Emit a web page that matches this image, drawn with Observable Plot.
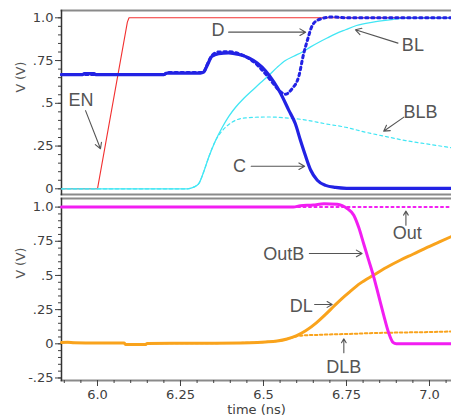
<!DOCTYPE html>
<html><head><meta charset="utf-8">
<script src="https://cdn.jsdelivr.net/npm/d3@7"></script>
<script src="https://cdn.jsdelivr.net/npm/@observablehq/plot@0.6"></script>
<style>
body{margin:0;background:#fff;}
#chart{width:451px;height:417px;overflow:hidden;position:relative;background:#fff;}
#chart svg{display:block;}
</style></head><body><div id="chart"></div>
<script>
// ---------- data (time ns, volts) ----------
const EN = [[5.8916,0],[6.0,0],[6.09,0.975],[6.095,1.0],[7.0663,1.0]];
const C = [[5.8916,0.668],[5.955,0.668],[5.96,0.674],[5.99,0.674],[5.995,0.668],[6.2,0.668],[6.21,0.677],[6.31,0.677],
  [6.32,0.682],[6.33,0.72],[6.345,0.775],[6.365,0.79],[6.395,0.795],[6.426,0.785],[6.456,0.765],[6.481,0.735],
  [6.506,0.69],[6.531,0.625],[6.551,0.56],[6.576,0.46],[6.596,0.38],[6.611,0.285],[6.627,0.19],[6.642,0.11],
  [6.662,0.05],[6.687,0.02],[6.717,0.008],[6.75,0.003],[7.0663,0.002]];
const D = [[5.8916,0.668],[6.2,0.668],[6.21,0.68],[6.31,0.68],[6.32,0.685],[6.33,0.725],[6.345,0.78],[6.365,0.80],
  [6.395,0.802],[6.426,0.79],[6.456,0.762],[6.481,0.725],[6.506,0.672],[6.531,0.612],[6.551,0.568],[6.566,0.553],
  [6.586,0.585],[6.606,0.655],[6.621,0.79],[6.632,0.867],[6.647,0.955],[6.667,0.99],[6.707,1.005],[6.75,1.0],[7.0663,1.0]];
const BL = [[5.8916,0],[6.27,0],[6.29,0.01],[6.305,0.03],[6.32,0.1],[6.335,0.185],[6.355,0.28],[6.376,0.36],
  [6.396,0.425],[6.416,0.477],[6.441,0.53],[6.466,0.575],[6.491,0.62],[6.516,0.663],[6.541,0.71],[6.566,0.75],
  [6.591,0.775],[6.617,0.80],[6.642,0.83],[6.667,0.857],[6.692,0.882],[6.717,0.906],[6.747,0.93],[6.78,0.955],
  [6.83,0.975],[6.88,0.988],[6.94,1.0],[7.0663,1.0]];
const BLB = [[5.8916,0],[6.27,0],[6.29,0.01],[6.305,0.03],[6.32,0.1],[6.335,0.185],[6.355,0.28],[6.376,0.34],
  [6.406,0.39],[6.446,0.415],[6.516,0.42],[6.566,0.415],[6.617,0.405],[6.687,0.38],[6.747,0.36],[6.807,0.331],
  [6.87,0.305],[6.928,0.282],[7.0,0.26],[7.0663,0.24]];
const OUT = [[5.8916,1.0],[7.0663,1.0]];
const OUTB = [[5.8916,1.0],[6.59,1.0],[6.611,1.01],[6.65,1.015],[6.682,1.025],[6.722,1.02],[6.737,1.01],[6.752,0.99],
  [6.772,0.94],[6.787,0.85],[6.802,0.73],[6.817,0.61],[6.832,0.49],[6.847,0.35],[6.862,0.21],[6.877,0.08],
  [6.89,0.01],[6.9,0],[7.0663,0]];
const DL = [[5.8916,0.01],[5.91,0.012],[5.93,0.007],[6.0,0.005],[6.08,0.005],[6.085,-0.005],[6.145,-0.005],[6.15,0.003],
  [6.3,0.004],[6.46,0.008],[6.506,0.013],[6.541,0.02],[6.571,0.035],[6.6,0.06],[6.627,0.095],[6.66,0.155],[6.687,0.215],
  [6.712,0.275],[6.737,0.333],[6.762,0.385],[6.79,0.44],[6.832,0.503],[6.87,0.558],[6.913,0.613],[6.95,0.655],
  [6.993,0.705],[7.03,0.745],[7.0663,0.785]];
const DLB = [[5.8916,0.01],[5.91,0.012],[5.93,0.007],[6.0,0.005],[6.08,0.005],[6.085,-0.005],[6.145,-0.005],[6.15,0.003],
  [6.3,0.004],[6.46,0.008],[6.506,0.013],[6.541,0.02],[6.571,0.035],[6.6,0.055],[6.62,0.062],[6.66,0.065],[6.72,0.07],
  [6.76,0.072],[6.82,0.078],[6.9,0.082],[7.0,0.086],[7.0663,0.09]];

// ---------- ticks / labels ----------
const X_DOMAIN = [5.8916, 7.0663];
const xMajor = [6.0, 6.25, 6.5, 6.75, 7.0];
const xMajorLabels = ["6.0", "6.25", "6.5", "6.75", "7.0"];
const xMinor = d3.range(5.9, 7.07, 0.05);
const yTopTicks = [0, 0.25, 0.5, 0.75, 1.0];
const yTopLabels = ["0", ".25", ".5", ".75", "1.0"];
const yTopMinor = d3.range(0, 1.001, 0.05);
const yBotTicks = [-0.25, 0, 0.25, 0.5, 0.75, 1.0];
const yBotLabels = ["-.25", "0", ".25", ".5", ".75", "1.0"];
const yBotMinor = d3.range(-0.25, 1.001, 0.05);
const yAxisTitle = "V (V)";
const xAxisTitle = "time (ns)";
const yTitleTop = [{v: 0.563}];
const yTitleBot = [{v: 0.478}];

// ---------- annotations ----------
const textTop = [
  {t: 6.363, v: 0.926, label: "D"},
  {t: 6.428, v: 0.13, label: "C"},
  {t: 6.950, v: 0.842, label: "BL"},
  {t: 6.973, v: 0.448, label: "BLB"},
  {t: 5.950, v: 0.516, label: "EN"}
];
const arrowsTop = [
  {t1: 6.395, v1: 0.916, t2: 6.627, v2: 0.916},
  {t1: 6.463, v1: 0.132, t2: 6.624, v2: 0.132},
  {t1: 6.905, v1: 0.852, t2: 6.777, v2: 0.930},
  {t1: 6.923, v1: 0.419, t2: 6.862, v2: 0.337},
  {t1: 5.964, v1: 0.457, t2: 6.009, v2: 0.234}
];
const textBot = [
  {t: 6.933, v: 0.807, label: "Out"},
  {t: 6.561, v: 0.654, label: "OutB"},
  {t: 6.614, v: 0.278, label: "DL"},
  {t: 6.742, v: -0.171, label: "DLB"}
];
const arrowsBot = [
  {t1: 6.929, v1: 0.868, t2: 6.929, v2: 0.971},
  {t1: 6.638, v1: 0.661, t2: 6.797, v2: 0.661},
  {t1: 6.654, v1: 0.288, t2: 6.707, v2: 0.288},
  {t1: 6.742, v1: -0.065, t2: 6.742, v2: 0.037}
];

// ---------- colours ----------
const RED = "#f23030", BLUE = "#2222e4", CYAN = "#42e6f4", MAGENTA = "#f21ef2", ORANGE = "#f9a31c";
const GRID = "#8a8a8a", INK = "#404040", NOTE = "#555555";

const fmt = (ticks, labels) => d => { const i = ticks.findIndex(t => Math.abs(t - d) < 1e-9); return i < 0 ? "" : labels[i]; };
const P = {x: d => d[0], y: d => d[1]};
const noteFont = {fontFamily: "Liberation Sans, Arial, sans-serif", fontSize: 18, fill: NOTE};

const topPlot = Plot.plot({
  width: 451, height: 196,
  marginLeft: 61, marginRight: 0, marginTop: 10, marginBottom: 2,
  style: {fontFamily: "DejaVu Sans", fontSize: "13px", color: INK, background: "white"},
  x: {domain: X_DOMAIN, axis: null},
  y: {domain: [0, 1], range: [188.3, 17.3], axis: null},
  marks: [
    Plot.frame({anchor: "top", stroke: GRID, strokeWidth: 2}),
    Plot.frame({anchor: "bottom", stroke: GRID, strokeWidth: 2}),
    Plot.axisY({ticks: yTopMinor, tickSize: 3, tickFormat: () => "", label: null, stroke: INK}),
    Plot.axisY({ticks: yTopTicks, tickSize: 6, tickPadding: 2, tickFormat: fmt(yTopTicks, yTopLabels), label: null, stroke: INK}),
    Plot.frame({anchor: "left", stroke: "#333", strokeWidth: 1.5}),
    Plot.text(yTitleTop, {y: "v", frameAnchor: "left", dx: -41, rotate: -90, text: () => yAxisTitle, fill: "#555", fontSize: 12.5}),
    Plot.line(EN, {...P, stroke: RED, strokeWidth: 1.1}),
    Plot.line(BLB, {...P, stroke: CYAN, strokeWidth: 1.2, strokeDasharray: "3,3", curve: "monotone-x"}),
    Plot.line(BL, {...P, stroke: CYAN, strokeWidth: 1.3, curve: "monotone-x"}),
    Plot.line(D, {...P, stroke: BLUE, strokeWidth: 3, strokeDasharray: "2.5,3.5", curve: "monotone-x"}),
    Plot.line(C, {...P, stroke: BLUE, strokeWidth: 3.2, curve: "monotone-x"}),
    Plot.arrow(arrowsTop, {x1: "t1", y1: "v1", x2: "t2", y2: "v2", stroke: NOTE, strokeWidth: 1.1, headLength: 9, bend: 0}),
    Plot.text(textTop, {x: "t", y: "v", text: "label", ...noteFont})
  ]
});

const botPlot = Plot.plot({
  width: 451, height: 221,
  marginLeft: 61, marginRight: 0, marginTop: 2, marginBottom: 37,
  style: {fontFamily: "DejaVu Sans", fontSize: "13px", color: INK, background: "white"},
  x: {domain: X_DOMAIN, axis: null},
  y: {domain: [0, 1], range: [147.3, 10.6], axis: null},
  marks: [
    Plot.frame({anchor: "top", stroke: GRID, strokeWidth: 2}),
    Plot.frame({anchor: "bottom", stroke: GRID, strokeWidth: 2}),
    Plot.axisY({ticks: yBotMinor, tickSize: 3, tickFormat: () => "", label: null, stroke: INK}),
    Plot.axisY({ticks: yBotTicks, tickSize: 6, tickPadding: 2, tickFormat: fmt(yBotTicks, yBotLabels), label: null, stroke: INK}),
    Plot.axisX({ticks: xMinor, tickSize: 3, tickFormat: () => "", label: null, stroke: INK}),
    Plot.axisX({ticks: xMajor, tickSize: 6, tickPadding: 3, tickFormat: fmt(xMajor, xMajorLabels),
      label: xAxisTitle, labelAnchor: "center", labelOffset: 33, labelArrow: "none", stroke: INK}),
    Plot.frame({anchor: "left", stroke: "#333", strokeWidth: 1.5}),
    Plot.text(yTitleBot, {y: "v", frameAnchor: "left", dx: -41, rotate: -90, text: () => yAxisTitle, fill: "#555", fontSize: 12.5}),
    Plot.line(DLB, {...P, stroke: ORANGE, strokeWidth: 2, strokeDasharray: "2.5,2.5", curve: "monotone-x"}),
    Plot.line(DL, {...P, stroke: ORANGE, strokeWidth: 3, curve: "monotone-x"}),
    Plot.line(OUT, {...P, stroke: MAGENTA, strokeWidth: 2, strokeDasharray: "2,3.5"}),
    Plot.line(OUTB, {...P, stroke: MAGENTA, strokeWidth: 3, curve: "monotone-x"}),
    Plot.arrow(arrowsBot, {x1: "t1", y1: "v1", x2: "t2", y2: "v2", stroke: NOTE, strokeWidth: 1.1, headLength: 9, bend: 0}),
    Plot.text(textBot, {x: "t", y: "v", text: "label", ...noteFont})
  ]
});

const chart = document.getElementById("chart");
chart.appendChild(topPlot);
chart.appendChild(botPlot);
</script></body></html>
